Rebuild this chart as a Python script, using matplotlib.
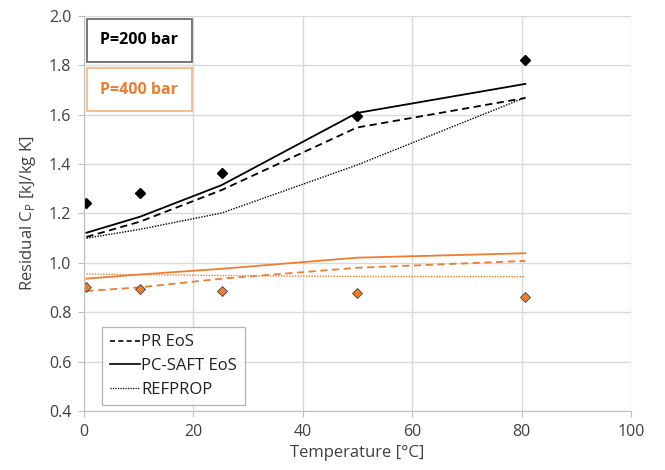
import matplotlib
matplotlib.use('Agg')
import matplotlib.pyplot as plt
from matplotlib.lines import Line2D

plt.rcParams['font.family'] = ['Open Sans', 'DejaVu Sans']

# temperatures [°C]
temp = [0.5, 10.3, 25.2, 49.9, 80.7]

# P = 200 bar
exp_200 = [1.244, 1.282, 1.365, 1.595, 1.822]
pr_200 = [1.105, 1.167, 1.295, 1.548, 1.668]
saft_200 = [1.122, 1.187, 1.315, 1.607, 1.725]
refprop_200 = [1.100, 1.136, 1.202, 1.396, 1.670]

# P = 400 bar
exp_400 = [0.904, 0.896, 0.888, 0.877, 0.863]
pr_400 = [0.886, 0.901, 0.936, 0.980, 1.008]
saft_400 = [0.936, 0.953, 0.976, 1.021, 1.039]
refprop_400 = [0.955, 0.952, 0.949, 0.945, 0.944]

orange = '#ED7D31'

fig = plt.figure(figsize=(6.65, 4.70), dpi=100)
ax = fig.add_axes([83.7 / 665, 1 - 411 / 470, (631 - 83.7) / 665, (411 - 16) / 470])

ax.plot(temp, pr_200, color='black', lw=1.3, ls=(0, (4, 2.5)))
ax.plot(temp, saft_200, color='black', lw=1.3)
ax.plot(temp, refprop_200, color='black', lw=1.0, ls=(0, (1, 1)))
ax.plot(temp, exp_200, 'D', color='black', ms=5.5, ls='none')

ax.plot(temp, pr_400, color=orange, lw=1.3, ls=(0, (4, 2.5)))
ax.plot(temp, saft_400, color=orange, lw=1.3)
ax.plot(temp, refprop_400, color=orange, lw=1.0, ls=(0, (1, 1)))
ax.plot(temp, exp_400, 'D', color=orange, mec='#404040', mew=0.6, ms=5.5, ls='none')

ax.set_xlim(0, 100)
ax.set_ylim(0.4, 2.0)
ax.set_xticks(range(0, 101, 20))
ax.set_yticks([0.4 + 0.2 * i for i in range(9)])
ax.set_yticklabels(['%.1f' % (0.4 + 0.2 * i) for i in range(9)])
ax.grid(True, color='#d9d9d9', lw=1.0)
ax.set_axisbelow(True)
for s in ['top', 'right']:
    ax.spines[s].set_visible(False)
for s in ['left', 'bottom']:
    ax.spines[s].set_color('#bfbfbf')
ax.tick_params(colors='#bfbfbf', labelcolor='#404040', labelsize=11.5, length=4,
               direction='out', pad=5)
ax.set_xlabel('Temperature [°C]', fontsize=12, color='#404040', labelpad=4)
ax.set_ylabel('Residual C$_\\mathregular{P}$ [kJ/kg K]', fontsize=12, color='#404040', labelpad=8)

handles = [Line2D([], [], color='black', lw=1.2, ls=(0, (3, 2))),
           Line2D([], [], color='black', lw=1.2),
           Line2D([], [], color='black', lw=0.9, ls=(0, (1, 1)))]
leg = ax.legend(handles, ['PR EoS', 'PC-SAFT EoS', 'REFPROP'], loc='lower left',
                bbox_to_anchor=((102.3 - 83.7) / 547.3, (411 - 405) / 395),
                fontsize=12, frameon=True, fancybox=False, edgecolor='#a0a0a0',
                handlelength=1.8, handletextpad=0.1, labelspacing=0.45, borderpad=0.45,
                borderaxespad=0)
leg.get_frame().set_linewidth(0.9)
for t in leg.get_texts():
    t.set_color('#202020')

ax.text(0.1014, 0.9385, 'P=200 bar', transform=ax.transAxes, ha='center', va='center',
        fontsize=11.5, fontweight='bold', color='black',
        bbox=dict(boxstyle='square,pad=0.85', fc='white', ec='#606060', lw=1.2))
ax.text(0.1014, 0.8134, 'P=400 bar', transform=ax.transAxes, ha='center', va='center',
        fontsize=11.5, fontweight='bold', color=orange,
        bbox=dict(boxstyle='square,pad=0.85', fc='white', ec='#F4B183', lw=1.2))

fig.savefig('out.png', dpi=100)
